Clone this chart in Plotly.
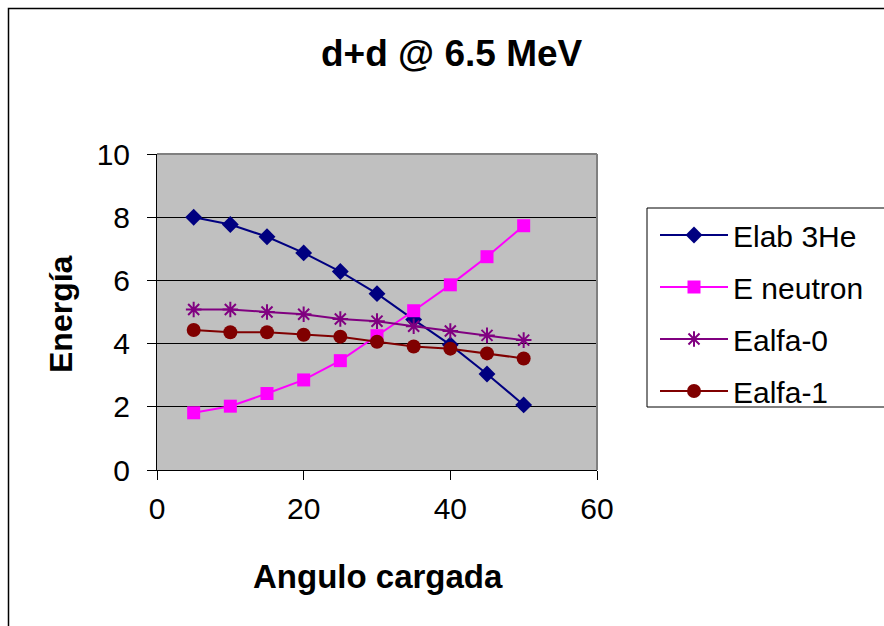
import plotly.graph_objects as go

angles = [5, 10, 15, 20, 25, 30, 35, 40, 45, 50]
elab_3he = [8.00, 7.77, 7.38, 6.87, 6.28, 5.58, 4.76, 3.96, 3.04, 2.06]
e_neutron = [1.81, 2.02, 2.42, 2.85, 3.46, 4.25, 5.04, 5.86, 6.75, 7.73]
ealfa_0 = [5.08, 5.08, 5.00, 4.93, 4.78, 4.71, 4.55, 4.40, 4.26, 4.11]
ealfa_1 = [4.43, 4.36, 4.36, 4.28, 4.22, 4.06, 3.91, 3.84, 3.69, 3.53]

names = ["Elab 3He", "E neutron", "Ealfa-0", "Ealfa-1"]
FONT = "Arial, Liberation Sans, sans-serif"

L, R, T, B = 157, 287, 154, 156
W, H = 884, 626
PW, PH = W - L - R, H - T - B


def px(x):
    return (x - L) / PW


def py(y):
    return (H - B - y) / PH


fig = go.Figure()
styles = [
    (elab_3he, "#000080", "diamond", 13, 0),
    (e_neutron, "#FF00FF", "square", 13, 0),
    (ealfa_0, "#800080", "asterisk-open", 13, 2),
    (ealfa_1, "#800000", "circle", 14, 0),
]
for i, (vals, col, sym, sz, lw) in enumerate(styles):
    fig.add_trace(go.Scatter(
        x=angles, y=vals, name=names[i], mode="lines+markers",
        legendgroup=names[i],
        line=dict(color=col, width=2),
        marker=dict(symbol=sym, size=sz, color=col,
                    line=dict(color=col, width=lw)),
    ))

fig.update_layout(
    width=W, height=H,
    margin=dict(l=L, r=R, t=T, b=B),
    paper_bgcolor="white",
    plot_bgcolor="#C0C0C0",
    font=dict(family=FONT, color="black"),
    showlegend=True,
    legend=dict(
        x=px(655), y=py(209), xanchor="left", yanchor="top",
        bgcolor="rgba(0,0,0,0)", borderwidth=0,
        font=dict(size=30, family=FONT),
        itemwidth=68, tracegroupgap=10,
    ),
    xaxis=dict(
        range=[0, 60], tickvals=[0, 20, 40, 60], showgrid=False,
        zeroline=False, showline=True, linecolor="black", linewidth=1,
        ticks="outside", ticklen=9, tickcolor="black",
        tickfont=dict(size=30, family=FONT), ticklabelstandoff=3,
        mirror=False,
    ),
    yaxis=dict(
        range=[0, 10], tickvals=[0, 2, 4, 6, 8, 10], showgrid=True,
        gridcolor="black", gridwidth=1,
        zeroline=False, showline=True, linecolor="black", linewidth=1,
        ticks="outside", ticklen=9, tickcolor="black",
        tickfont=dict(size=30, family=FONT), ticklabelstandoff=11,
    ),
    shapes=[
        dict(type="line", xref="paper", yref="paper", x0=0, x1=1, y0=1, y1=1,
             line=dict(color="#808080", width=2)),
        dict(type="line", xref="paper", yref="paper", x0=1, x1=1, y0=0, y1=1,
             line=dict(color="#808080", width=2)),
        dict(type="rect", xref="paper", yref="paper",
             x0=px(647), x1=px(892), y0=py(407), y1=py(208),
             line=dict(color="black", width=1)),
        dict(type="rect", xref="paper", yref="paper",
             x0=px(8.5), x1=px(900), y0=py(640), y1=py(8.5),
             line=dict(color="black", width=1.5)),
    ],
    annotations=[
        dict(text="<b>d+d @ 6.5 MeV</b>", xref="paper", yref="paper",
             x=px(452), y=py(53), xanchor="center", yanchor="middle",
             showarrow=False, font=dict(size=37, family=FONT)),
        dict(text="<b>Energía</b>", xref="paper", yref="paper",
             x=px(61), y=py(314), xanchor="center", yanchor="middle",
             textangle=-90, showarrow=False, font=dict(size=32, family=FONT)),
        dict(text="<b>Angulo cargada</b>", xref="paper", yref="paper",
             x=px(378), y=py(576), xanchor="center", yanchor="middle",
             showarrow=False, font=dict(size=33, family=FONT)),
    ],
)

fig.write_html("out.html")
